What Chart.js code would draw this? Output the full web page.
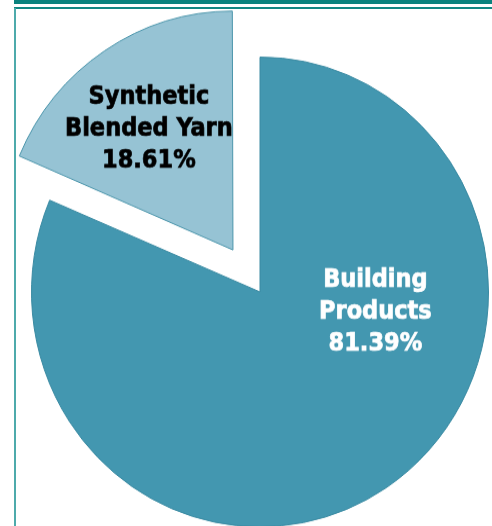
<!DOCTYPE html>
<html>
<head>
<meta charset="utf-8">
<script src="https://cdn.jsdelivr.net/npm/chart.js@4/dist/chart.umd.min.js"></script>
<style>
  html, body { margin: 0; padding: 0; background: #fff; overflow: hidden; }
  #wrap { position: relative; width: 492px; height: 526px; overflow: hidden; }
  #topbar { position: absolute; left: 14px; top: 0; width: 478px; height: 4px; background: #0b827e; }
  #topline { position: absolute; left: 14px; top: 7px; width: 478px; height: 2px; background: #138783; }
  #leftline { position: absolute; left: 14px; top: 8px; width: 2px; height: 518px; background: #4eaaab; }
  #chartBox { position: absolute; left: 0; top: 0; width: 492px; height: 526px;
              transform: scaleY(1.028); transform-origin: 0 0; }
</style>
</head>
<body>
<div id="wrap">
  <div id="chartBox"><canvas id="chartSegmentos" width="492" height="526"></canvas></div>
  <div id="topbar"></div>
  <div id="topline"></div>
  <div id="leftline"></div>
</div>
<script>
const segmentos = ["Building Products", "Synthetic Blended Yarn"];
const valores = [81.39, 18.61];
const labelLinhas = [["Building", "Products", "81.39%"], ["Synthetic", "Blended Yarn", "18.61%"]];
const darkTeal = "#4397b0";
const lightBlue = "#96c3d4";

// label position as a fraction of the radius, from the slice's own centre
const labelPos = [[0.505, 0.085], [-0.368, -0.515]];
const labelCor = ["#ffffff", "#000000"];

const pieLabels = {
  id: "pieLabels",
  afterDatasetsDraw(chart) {
    const ctx = chart.ctx;
    const arcs = chart.getDatasetMeta(0).data;
    ctx.save();
    ctx.font = "bold 25px 'DejaVu Sans Condensed', 'DejaVu Sans', sans-serif";
    ctx.textAlign = "center";
    ctx.textBaseline = "middle";
    ctx.lineWidth = 0.7;
    arcs.forEach((arc, i) => {
      const p = arc.getProps(["x", "y", "startAngle", "endAngle", "outerRadius"], true);
      const mid = (p.startAngle + p.endAngle) / 2;
      // chart.js v4 moves an arc by offset / 4
      const off = (arc.options.offset || 0) / 4;
      const cx = p.x + Math.cos(mid) * off;
      const cy = p.y + Math.sin(mid) * off;
      const lx = cx + labelPos[i][0] * p.outerRadius;
      const ly = cy + labelPos[i][1] * p.outerRadius;
      ctx.fillStyle = labelCor[i];
      ctx.strokeStyle = labelCor[i];
      labelLinhas[i].forEach((t, k) => {
        ctx.fillText(t, lx, ly + (k - 1) * 30.6);
        ctx.strokeText(t, lx, ly + (k - 1) * 30.6);
      });
    });
    ctx.restore();
  }
};

new Chart(document.getElementById("chartSegmentos"), {
  type: "pie",
  data: {
    labels: segmentos,
    datasets: [
      {
        data: valores,
        backgroundColor: [darkTeal, lightBlue],
        borderColor: ["#3a8aa2", "#4b95ab"],
        borderWidth: 1,
        offset: [0, 196],
      },
    ],
  },
  options: {
    responsive: false,
    animation: false,
    radius: 228.5,
    layout: { padding: { left: 28, right: 0, top: 42, bottom: 0 } },
    plugins: {
      legend: { display: false },
      tooltip: { enabled: false },
    },
  },
  plugins: [pieLabels],
});
</script>
</body>
</html>
